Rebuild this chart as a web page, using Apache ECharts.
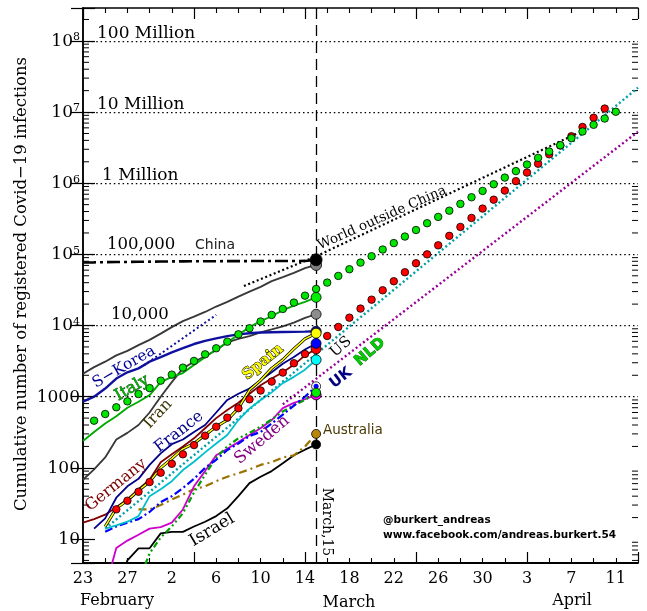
<!DOCTYPE html>
<html><head><meta charset="utf-8">
<script src="https://cdn.jsdelivr.net/npm/echarts@6/dist/echarts.min.js"></script>
<style>html,body{margin:0;padding:0;background:#fff}#c{width:647px;height:611px}</style>
</head><body><div id="c"></div>
<script>
// x = days since 23 February 2020 ; y = cumulative registered infections (log)
const marchDay = 21;
const gridLevels = [1e3, 1e4, 1e5, 1e6, 1e7, 1e8];

// series values (start day, then one value per day)
const worldStart = 0;
const worldOutsideChina = [2100,2600,3100,3800,4400,5300,6300,7700,9500,11500,13300,15500,18500,21500,25500,30000,35000,42000,48000,55000,64000,71000];
const chinaStart = 0;
const china = [77000,77300,77700,78000,78300,78600,79000,79300,79600,79800,80000,80100,80200,80300,80400,80500,80600,80700,80800,80800,80900,84000];
const iranStart = 0;
const iran = [68,95,140,250,310,400,600,1000,1600,2500,3100,3700,4500,5800,6500,7100,8000,8800,9700,11000,12800,14400];
const koreaStart = 0;
const sKorea = [850,1000,1300,1800,2200,2500,3100,3600,4200,4800,5500,6100,6600,7100,7500,7800,8000,8050,8100,8150,8200,8300];
const italyStart = 0;
const italy = [239,320,420,530,700,850,1050,1600,1900,2150,2800,3600,4600,5800,7400,9500,11500,13500,16500,19000,21500,24900];
const germanyStart = 0;
const germany = [17,19,22,28,36,50,68,120,155,200,260,360,500,650,820,1100,1450,1800,2200,2800,3800,4700];
const franceStart = 1;
const france = [14,19.5,38,55,70,110,160,215,250,320,400,600,900,1100,1300,1700,2200,2900,3600,4600,5600];
const spainStart = 2;
const spain = [15,27,35,48,64,100,135,185,220,290,380,470,690,1240,1700,2500,3300,4700,6500,7800];
const usStart = 2;
const us = [14,15.5,17.5,21,40,50,65,93,122,165,220,290,470,680,900,1150,1550,1900,2400,3300];
const ukStart = 2;
const uk = [12.6,15,17,19,24,33,40,52,70,100,130,178,220,280,320,420,560,750,1000,1400];
const swedenStart = 2;
const sweden = [2,7.5,9.5,11.5,14,14.7,17,26,55,90,150,185,230,290,360,470,690,820,920,1060];
const nldStart = 5;
const nld = [2.5,6.3,10.5,15,23,45,80,140,200,260,310,380,480,620,760,900,1140];
const australiaStart = 5;
const australia = [26,26,30,36,42,50,55,65,75,84,95,110,120,140,150,200,300];
const israelStart = 3;
const israel = [2,5,7.4,7.4,12,12.6,12.6,15,17.5,21,27,40,61,75,90,116,150,180,213];

// projection dots
const greenDotStart = 1;
const greenDots = [460,571,710,861,1090,1320,1680,2040,2560,3180,3940,4790,5930,7530,9160,11400,14100,17100,21000,26300,32700,40100,49800,61800,76600,94200,117000,144000,178000,220000,274000,336000,411000,512000,635000,780000,968000,1200000,1480000,1830000,2270000,2790000,3420000,4300000,5330000,6620000,8110000,10100000];
const redDotStart = 3;
const redDots = [26.1,34.5,46.2,63.1,85.5,114,155,209,283,378,507,687,918,1220,1630,2180,2950,3980,5370,7140,9550,12900,17300,23100,31300,41900,56100,75000,100000,134000,182000,243000,325000,440000,587000,787000,1070000,1410000,1880000,2550000,3390000,4570000,6170000,8320000,11200000];

// trend lines (day, value)
const worldTrendDays = [14.5, 21, 44.5];
const worldTrendVals = [36000, 94000, 5.0e6];
const usTrendDays = [2, 50];
const usTrendVals = [14, 2.2e7];
const purpleTrendDays = [18, 50];
const purpleTrendVals = [780, 5.3e6];
const koreaTrendDays = [5.5, 12];
const koreaTrendVals = [2760, 14100];

// minor log ticks
const minorTickValues = [];
for (let k = 0; k <= 8; k++) for (let m = 2; m <= 9; m++) { const v = m * Math.pow(10, k); if (v > 4.6 && v < 2.9e8) minorTickValues.push(v); }

const SERIF = '"DejaVu Serif", serif';
const SANS = '"DejaVu Sans", sans-serif';

function seq(start, arr) { return arr.map((v, i) => [start + i, v]); }
function pairs(days, vals) { return days.map((d, i) => [d, vals[i]]); }
function lastPt(start, arr) { return [[start + arr.length - 1, arr[arr.length - 1]]]; }

function lineS(data, color, width, type, z) {
  return { type: 'line', data, symbol: 'none', silent: true, animation: false,
    lineStyle: { color, width, type: type || 'solid', cap: 'butt' }, z: z || 3 };
}
function dotS(data, color, size, z, bw) {
  return { type: 'scatter', data, symbol: 'circle', symbolSize: size, silent: true, animation: false,
    itemStyle: { color, borderColor: '#000', borderWidth: bw == null ? 0.8 : bw, opacity: 1 }, z: z || 10 };
}

const dayOfMonth = d => new Date(2020, 1, 23 + d).getDate();

const chinaSeries = lineS(seq(chinaStart, china), '#000', 2.6, [13, 4, 3, 4], 2);
chinaSeries.markLine = {
  silent: true, symbol: ['none', 'none'], label: { show: false }, animation: false,
  data: gridLevels.map(v => ({ yAxis: v, lineStyle: { type: [1.5, 2.9], color: '#000', width: 1.25 } }))
    .concat([{ xAxis: marchDay, lineStyle: { type: [11, 6], color: '#000', width: 1.3 } }])
};

const series = [
  chinaSeries,
  {
    type: 'custom', silent: true, animation: false, clip: false, z: 1,
    data: minorTickValues.map(v => [0, v]),
    renderItem(params, api) {
      const y = api.coord([0, api.value(1)])[1];
      const cs = params.coordSys;
      return { type: 'group', children: [
        { type: 'line', shape: { x1: cs.x, y1: y, x2: cs.x + 6, y2: y }, style: { stroke: '#000', lineWidth: 1 } },
        { type: 'line', shape: { x1: cs.x + cs.width - 6, y1: y, x2: cs.x + cs.width, y2: y }, style: { stroke: '#000', lineWidth: 1 } }
      ] };
    }
  },
  lineS(pairs(worldTrendDays, worldTrendVals), '#000', 2.2, [2, 2.6], 2),
  lineS(seq(worldStart, worldOutsideChina), '#383838', 1.9, 'solid', 3),
  lineS(seq(iranStart, iran), '#383838', 1.8, 'solid', 3),
  lineS(pairs(koreaTrendDays, koreaTrendVals), '#1010a0', 2, [2, 2.6], 3),
  lineS(seq(koreaStart, sKorea), '#1010a0', 2.4, 'solid', 3),
  lineS(seq(italyStart, italy), '#00aa00', 1.9, 'solid', 3),
  lineS(seq(israelStart, israel), '#000', 1.8, 'solid', 3),
  lineS(seq(australiaStart, australia), '#9a7200', 2.2, [8, 4, 2, 4], 3),
  lineS(seq(swedenStart, sweden), '#cc00cc', 1.8, 'solid', 3),
  lineS(seq(nldStart, nld), '#00a000', 2.2, [6, 3, 2, 3, 2, 3], 3),
  lineS(seq(ukStart, uk), '#0000ff', 2.2, [8, 3, 2, 3], 3),
  lineS(pairs(purpleTrendDays, purpleTrendVals), '#990099', 2.4, [2, 2.6], 3),
  lineS(pairs(usTrendDays, usTrendVals), '#00a0a8', 2.4, [2, 2.6], 3),
  lineS(seq(usStart, us), '#00bfcc', 1.8, 'solid', 3),
  lineS(seq(germanyStart, germany), '#800000', 1.8, 'solid', 3),
  lineS(seq(franceStart, france), '#000088', 1.8, 'solid', 3),
  lineS(seq(spainStart, spain), '#000', 3, 'solid', 3),
  lineS(seq(spainStart, spain), '#ffff00', 1.5, 'solid', 4),
  dotS(seq(redDotStart, redDots), '#ff0000', 7.5, 6),
  dotS(seq(greenDotStart, greenDots), '#00e600', 7.5, 7),
  dotS(lastPt(worldStart, worldOutsideChina), '#808080', 11, 11),
  dotS(lastPt(chinaStart, china), '#000', 12, 12),
  dotS(lastPt(italyStart, italy), '#00ee00', 10, 11),
  dotS(lastPt(iranStart, iran), '#8c8c8c', 10, 11),
  dotS(lastPt(koreaStart, sKorea), '#1010a0', 10, 11),
  dotS(lastPt(spainStart, spain), '#ffff00', 10, 12),
  dotS(lastPt(germanyStart, germany), '#ff0000', 10, 11),
  dotS(lastPt(franceStart, france), '#0000ff', 10, 12),
  dotS(lastPt(usStart, us), '#00ffff', 10, 11),
  dotS(lastPt(ukStart, uk), '#ffffff', 9, 11),
  dotS(lastPt(ukStart, uk), '#0000ff', 5, 12, 0),
  dotS(lastPt(swedenStart, sweden), '#ff00ff', 10, 11),
  dotS(lastPt(nldStart, nld), '#00ee00', 9, 12),
  dotS(lastPt(australiaStart, australia), '#b8860b', 9, 11),
  dotS(lastPt(israelStart, israel), '#000', 9, 11)
];

function T(text, x, y, deg, font, fill, extra) {
  return { type: 'text', x, y, rotation: deg * Math.PI / 180, silent: true, z: 100,
    style: Object.assign({ text, font, fill, align: 'center', verticalAlign: 'middle' }, extra || {}) };
}
const L = { align: 'left' };

const graphics = [
  T('Cumulative number of registered Covid\u221219 infections', 22, 284, 90, '16.5px ' + SERIF, '#000'),
  T('February', 117, 601, 0, '16px ' + SERIF, '#000'),
  T('March', 349, 603, 0, '16px ' + SERIF, '#000'),
  T('April', 572, 601, 0, '16px ' + SERIF, '#000'),
  T('100 Million', 97, 34, 0, '17px ' + SERIF, '#000', L),
  T('10 Million', 97, 105, 0, '17px ' + SERIF, '#000', L),
  T('1 Million', 102, 176, 0, '17px ' + SERIF, '#000', L),
  T('100,000', 107, 245, 0, '16.5px ' + SERIF, '#000', L),
  T('China', 195, 245, 0, '14px ' + SANS, '#222', L),
  T('10,000', 111, 315, 0, '16.5px ' + SERIF, '#000', L),
  T('S\u2212Korea', 124, 367, 30, '15.5px ' + SERIF, '#000099'),
  T('Italy', 132, 388, 30, '16px ' + SERIF, '#00b300', { stroke: '#002a00', lineWidth: 0.6 }),
  T('Iran', 158, 414, 47, '16px ' + SERIF, '#3c3400'),
  T('France', 179, 432, 38, '16px ' + SERIF, '#000088'),
  T('Germany', 116, 485, 39, '16px ' + SERIF, '#7a0000'),
  T('Spain', 263, 362, 39, 'bold 15px ' + SERIF, '#ffff00', { stroke: '#000', lineWidth: 1 }),
  T('Sweden', 262, 440, 40, '16.5px ' + SERIF, '#800080'),
  T('Israel', 212, 530, 31, '17px ' + SERIF, '#000'),
  T('US', 341, 347, 42, '15px ' + SERIF, '#000'),
  T('NLD', 370, 352, 41, 'bold 15px ' + SANS, '#00cc00', { stroke: '#004400', lineWidth: 0.7 }),
  T('UK', 341, 378, 38, 'bold 15px ' + SANS, '#000080'),
  T('Australia', 323, 430, 0, '13.5px ' + SANS, '#4a3800', L),
  T('World outside China', 382, 218, 24, '13.5px ' + SERIF, '#000'),
  T('March,15', 327, 522, -90, '14px ' + SERIF, '#000'),
  T('@burkert_andreas', 383, 520, 0, 'bold 10.5px ' + SANS, '#000', L),
  T('www.facebook.com/andreas.burkert.54', 383, 535.5, 0, 'bold 10.5px ' + SANS, '#000', L)
];

const tickAxis = (pos) => ({
  type: 'value', position: pos, min: 0, max: 50, interval: 10,
  axisLine: { show: pos === 'top', onZero: false, lineStyle: { color: '#000', width: 1.5 } },
  axisTick: { show: true, inside: true, length: 11, lineStyle: { color: '#000', width: 1.2 } },
  minorTick: { show: true, splitNumber: 5, length: 5, lineStyle: { color: '#000', width: 1.1 } },
  axisLabel: { show: false }, splitLine: { show: false }, minorSplitLine: { show: false }
});

const option = {
  animation: false,
  backgroundColor: '#fff',
  grid: { left: 83, top: 8, right: 9, bottom: 48, containLabel: false },
  xAxis: [
    {
      type: 'value', position: 'bottom', min: 0, max: 50, interval: 4,
      axisLine: { show: true, onZero: false, lineStyle: { color: '#000', width: 2 } },
      axisTick: { show: false },
      axisLabel: { margin: 8, fontFamily: SERIF, fontSize: 16, color: '#000',
        formatter: v => (v % 4 === 0 && v <= 48) ? String(dayOfMonth(v)) : '' },
      splitLine: { show: false }
    },
    tickAxis('bottom'),
    tickAxis('top')
  ],
  yAxis: [
    {
      type: 'log', logBase: 10, position: 'left', min: 4.6, max: 2.9e8,
      axisLine: { show: true, lineStyle: { color: '#000', width: 1.5 } },
      axisTick: { show: true, inside: true, length: 12, lineStyle: { color: '#000', width: 1.2 } },
      splitLine: { show: false },
      axisLabel: {
        margin: 3, color: '#000', fontFamily: SERIF, fontSize: 17,
        formatter: v => {
          const lg = Math.log10(v), k = Math.round(lg);
          if (Math.abs(lg - k) > 1e-6) return '';
          if (k <= 3) return '{b|' + String(Math.pow(10, k)) + '}';
          return '{b|10}{s|' + k + '}';
        },
        rich: {
          b: { fontFamily: SERIF, fontSize: 17, lineHeight: 18, verticalAlign: 'bottom', color: '#000' },
          s: { fontFamily: SERIF, fontSize: 11, lineHeight: 11, verticalAlign: 'top', color: '#000' }
        }
      }
    },
    {
      type: 'log', logBase: 10, position: 'right', min: 4.6, max: 2.9e8,
      axisLine: { show: true, lineStyle: { color: '#000', width: 1.5 } },
      axisTick: { show: true, inside: true, length: 12, lineStyle: { color: '#000', width: 1.2 } },
      axisLabel: { show: false }, splitLine: { show: false }
    }
  ],
  series,
  graphic: graphics
};

const chart = echarts.init(document.getElementById('c'));
chart.setOption(option);
</script>
</body></html>
